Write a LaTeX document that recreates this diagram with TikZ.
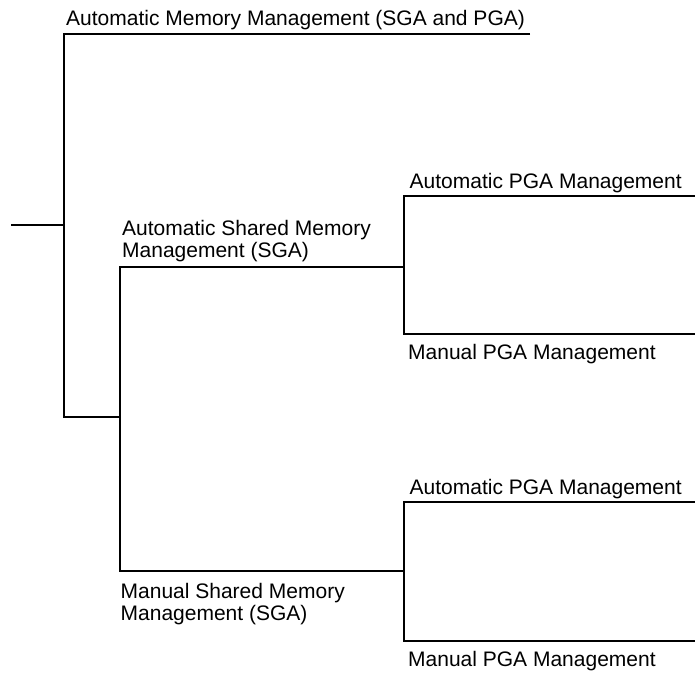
\documentclass[tikz,border=0pt]{standalone}
\usepackage{fontspec}
\setmainfont{Liberation Sans}
\begin{document}
\begin{tikzpicture}[x=1pt,y=-1pt,
  branch/.style={line width=2.4pt,line join=miter,line cap=butt},
  lbl/.style={inner sep=0pt,anchor=base west,align=left,
    font=\fontsize{21}{21.3}\selectfont}]
\useasboundingbox (0,0) rectangle (695,672);
% junction points
\coordinate (root) at (11,225);
\coordinate (j1) at (64,225);
\coordinate (t1) at (64,34);
\coordinate (t1e) at (530,34);
\coordinate (b1) at (64,417);
\coordinate (j2) at (120,417);
\coordinate (s1) at (120,267);
\coordinate (s1e) at (404,267);
\coordinate (s2) at (120,571);
\coordinate (s2e) at (404,571);
\coordinate (p1t) at (404,196);
\coordinate (p1te) at (697,196);
\coordinate (p1b) at (404,334);
\coordinate (p1be) at (697,334);
\coordinate (p2t) at (404,502);
\coordinate (p2te) at (697,502);
\coordinate (p2b) at (404,641);
\coordinate (p2be) at (697,641);
% connectors
\draw[branch] (root) -- (j1);
\draw[branch] (t1e) -- (t1) -- (b1) -- (j2);
\draw[branch] (s1e) -- (s1) -- (s2) -- (s2e);
\draw[branch] (p1te) -- (p1t) -- (p1b) -- (p1be);
\draw[branch] (p2te) -- (p2t) -- (p2b) -- (p2be);
% labels (base anchor of a two-line label is its last line)
\node[lbl] (amm) at (66,25) {Automatic Memory Management (SGA and PGA)};
\node[lbl] (asmm) at (122,257) {Automatic Shared Memory\\Management (SGA)};
\node[lbl] (msmm) at (120.5,620) {Manual Shared Memory\\Management (SGA)};
\node[lbl] (apga1) at (409.5,188.5) {Automatic PGA Management};
\node[lbl] (mpga1) at (408,359) {Manual PGA Management};
\node[lbl] (apga2) at (409.5,494) {Automatic PGA Management};
\node[lbl] (mpga2) at (408,666) {Manual PGA Management};
\end{tikzpicture}
\end{document}
